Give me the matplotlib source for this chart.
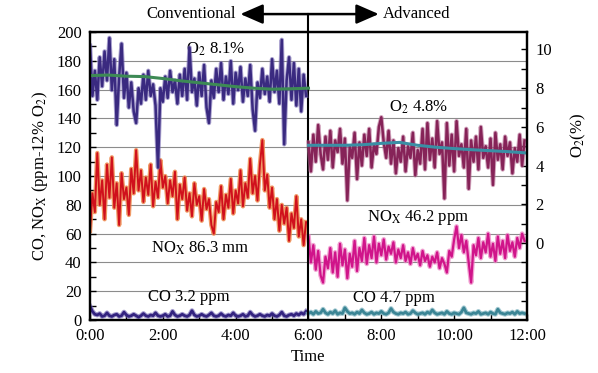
import numpy as np
import matplotlib
matplotlib.use('Agg')
from matplotlib import pyplot as plt

plt.rcParams['font.family'] = ['Liberation Serif', 'DejaVu Serif']
plt.rcParams['mathtext.fontset'] = 'stix'
plt.rcParams['font.size'] = 11.5

# sampling every 4 minutes, times in hours
t_conv = np.arange(0, 360, 4) / 60.
t_adv = np.arange(360, 720, 4) / 60.

# conventional run
o2_conv = [10.2, 7.6, 8.9, 7.4, 9.6, 8.1, 9.9, 8.4, 10.6, 7.9, 9.5, 6.1, 8.6, 10.3, 7.5,
           8.8, 7.0, 8.3, 6.8, 6.2, 8.0, 7.2, 8.7, 7.4, 8.9, 7.6, 8.2, 7.1, 3.9, 8.0,
           7.3, 8.6, 7.5, 8.9, 7.8, 8.4, 7.2, 8.7, 7.6, 9.0, 7.4, 10.1, 7.8, 8.5, 7.1,
           8.8, 7.6, 9.2, 7.0, 6.2, 8.4, 7.5, 9.0, 7.8, 9.3, 7.4, 8.6, 7.7, 9.4, 7.2,
           8.8, 7.9, 9.1, 7.3, 8.5, 7.6, 9.2, 6.9, 5.8, 8.3, 7.5, 9.0, 7.7, 8.6, 7.3,
           9.5, 7.8, 8.9, 7.2, 10.5, 5.1, 8.4, 9.6, 7.4, 9.3, 7.1, 9.0, 6.8, 8.7, 7.6]
nox_conv = [62, 88, 75, 116, 80, 97, 70, 108, 85, 113, 78, 95, 66, 102, 84, 92, 73, 105,
            88, 118, 90, 104, 82, 99, 87, 108, 79, 96, 85, 111, 92, 100, 81, 97, 86, 103,
            70, 94, 84, 99, 76, 88, 72, 95, 80, 86, 69, 91, 77, 84, 66, 60, 82, 75, 93,
            70, 87, 78, 98, 74, 90, 81, 104, 79, 95, 85, 112, 88, 100, 83, 108, 125, 90,
            101, 78, 92, 70, 84, 62, 80, 67, 78, 55, 74, 64, 86, 58, 70, 52, 68]
co_conv = [9.5, 6.0, 4.0, 3.5, 4.5, 2.5, 3.0, 5.0, 3.0, 2.5, 3.5, 4.0, 2.5, 3.0, 5.5,
           3.5, 2.5, 3.0, 4.0, 3.0, 2.0, 3.0, 4.5, 3.0, 2.5, 3.5, 3.0, 5.0, 3.0, 2.5,
           3.0, 4.0, 2.5, 3.0, 6.0, 3.5, 2.5, 3.0, 4.0, 3.0, 2.5, 3.5, 6.5, 3.5, 2.5,
           3.0, 4.0, 3.0, 2.5, 3.5, 5.0, 3.0, 2.5, 3.0, 4.5, 3.0, 2.5, 3.5, 3.0, 5.0,
           3.0, 2.5, 3.0, 4.0, 2.5, 3.0, 5.5, 3.5, 2.5, 3.0, 4.0, 3.0, 2.5, 3.5, 3.0,
           4.5, 3.0, 2.5, 3.5, 5.5, 3.0, 2.5, 3.5, 4.0, 3.0, 4.5, 3.5, 5.0, 4.0, 6.0]

# advanced run
o2_adv = [5.2, 3.7, 5.6, 4.2, 6.1, 4.6, 3.8, 5.5, 4.3, 5.8, 3.9, 5.3, 4.7, 5.9, 4.1,
          5.4, 2.2, 5.0, 4.4, 5.7, 3.3, 5.2, 4.0, 5.6, 4.5, 5.9, 3.9, 5.1, 4.6, 6.0,
          6.5, 5.2, 4.4, 5.8, 4.1, 5.3, 3.6, 4.9, 4.2, 5.5, 3.7, 5.0, 4.4, 5.7, 3.5,
          4.8, 4.1, 5.9, 3.8, 6.2, 4.3, 5.4, 3.9, 6.3, 4.6, 5.2, 2.3, 6.2, 4.0, 5.6,
          3.7, 6.3, 4.5, 5.1, 3.9, 5.9, 2.8, 5.3, 4.2, 5.5, 3.8, 6.0, 4.4, 5.0, 3.9,
          5.4, 3.0, 5.7, 4.3, 5.1, 3.8, 5.5, 4.5, 5.2, 3.6, 4.9, 4.2, 5.6, 4.0, 5.3]
nox_adv = [58, 40, 52, 35, 48, 31, 26, 44, 36, 50, 33, 47, 30, 53, 38, 49, 29, 46, 37,
           55, 34, 50, 41, 57, 39, 52, 43, 58, 40, 53, 45, 56, 42, 51, 46, 54, 40, 49,
           43, 52, 41, 47, 39, 50, 42, 46, 38, 48, 41, 45, 37, 44, 40, 47, 36, 43, 39,
           33, 48, 44, 56, 65, 50, 59, 47, 55, 40, 26, 52, 45, 57, 43, 54, 47, 60, 44,
           53, 41, 58, 46, 55, 43, 59, 48, 54, 44, 57, 50, 60, 55]
co_adv = [4.5, 5.5, 4.0, 6.0, 4.5, 5.0, 7.5, 5.0, 4.0, 5.5, 4.5, 6.5, 4.0, 5.0, 4.5,
          8.5, 6.0, 4.5, 5.0, 4.0, 5.5, 4.5, 7.0, 5.0, 4.0, 4.5, 5.5, 4.0, 5.0, 4.5,
          6.0, 4.5, 4.0, 5.0, 8.0, 5.5, 4.5, 4.0, 5.0, 4.5, 5.5, 4.0, 4.5, 6.5, 5.0,
          4.0, 4.5, 5.0, 4.0, 5.5, 4.5, 7.0, 5.0, 4.0, 4.5, 5.0, 4.0, 6.0, 4.5, 4.0,
          5.0, 4.5, 4.0, 5.5, 8.5, 5.0, 4.5, 4.0, 5.0, 4.5, 6.0, 4.0, 4.5, 5.0, 4.0,
          5.5, 4.5, 4.0, 7.5, 5.0, 4.5, 4.0, 5.0, 4.5, 5.5, 4.0, 6.0, 4.5, 5.0, 4.5]

# smoothed O2 trends
trend_t_conv = [0, 0.5, 1, 1.5, 2, 2.5, 3, 3.5, 4, 4.5, 5, 5.5, 6]
trend_conv = [8.65, 8.68, 8.62, 8.6, 8.5, 8.38, 8.28, 8.18, 8.08, 8.0, 7.95, 7.97, 8.0]
trend_t_adv = [6, 6.5, 7, 7.5, 8, 8.5, 9, 9.5, 10, 10.5, 11, 11.5, 12]
trend_adv = [5.05, 5.05, 5.05, 5.08, 5.15, 5.2, 5.05, 4.95, 4.88, 4.82, 4.77, 4.72, 4.65]

hour_labels = ['0:00', '2:00', '4:00', '6:00', '8:00', '10:00', '12:00']

fig = plt.figure(figsize=(5.98, 3.73), dpi=100)
ax = fig.add_axes([0.1505, 0.142, 0.7307, 0.772])
ax2 = ax.twinx()

ax.set_xlim(0, 12)
ax.set_ylim(0, 200)
ax2.set_ylim(-3.98, 10.9)

ax.set_yticks(np.arange(0, 201, 20))
ax.set_yticks(np.arange(0, 201, 10), minor=True)
ax.set_xticks(np.arange(0, 13, 2))
ax.set_xticks(np.arange(0, 13, 1), minor=True)
ax.set_xticklabels(hour_labels)
ax2.set_yticks(np.arange(0, 11, 2))
ax2.set_yticks(np.arange(-3, 11, 1), minor=True)
for a in (ax, ax2):
    a.tick_params(which='both', direction='in', length=4, width=1)
    a.tick_params(which='major', labelsize=12, pad=6)
ax.tick_params(axis='y', which='both', right=False)
ax.yaxis.grid(True, color='#8c8c8c', linewidth=0.8)
ax.set_axisbelow(True)
for s in ax.spines.values():
    s.set_linewidth(1.6)
for s in ax2.spines.values():
    s.set_linewidth(1.6)

# NOx and CO on the left axis, soft halo under each trace
ax.plot(t_conv, nox_conv, color='#ee8a4e', lw=3.2, alpha=0.85)
ax.plot(t_conv, nox_conv, color='#d0101c', lw=1.4)
ax.plot(t_conv, co_conv, color='#6c5fb0', lw=3.5, alpha=0.6)
ax.plot(t_conv, co_conv, color='#33237f', lw=2.0)
ax.plot(t_adv, nox_adv, color='#ec7cc0', lw=3.4, alpha=0.7)
ax.plot(t_adv, nox_adv, color='#d0148a', lw=1.6)
ax.plot(t_adv, co_adv, color='#7fb4c0', lw=3.5, alpha=0.7)
ax.plot(t_adv, co_adv, color='#3b8595', lw=2.0)

# O2 on the right axis
ax2.plot(t_conv, o2_conv, color='#7466b0', lw=3.2, alpha=0.6)
ax2.plot(t_conv, o2_conv, color='#3a2a80', lw=1.8)
ax2.plot(trend_t_conv, trend_conv, color='#3d8a55', lw=2.2)
ax2.plot(t_adv, o2_adv, color='#b46a92', lw=3.2, alpha=0.6)
ax2.plot(t_adv, o2_adv, color='#862358', lw=1.8)
ax2.plot(trend_t_adv, trend_adv, color='#3a8fa5', lw=2.2)

# split between the two runs
ax.plot([6, 6], [0, 212.5], color='black', lw=1.5, clip_on=False, zorder=5)
ax.annotate('', xy=(4.13, 212.5), xytext=(7.93, 212.5), xycoords='data',
            arrowprops=dict(arrowstyle='<|-|>,head_length=0.55,head_width=0.24',
                            color='black', lw=1.8, mutation_scale=25,
                            shrinkA=0, shrinkB=0),
            annotation_clip=False)
ax.text(4.0, 212.5, 'Conventional', ha='right', va='center', fontsize=12)
ax.text(8.05, 212.5, 'Advanced', ha='left', va='center', fontsize=12)

ax.text(3.44, 188, 'O$_2$ 8.1%', ha='center', va='center', fontsize=12)
ax.text(9.03, 148, 'O$_2$ 4.8%', ha='center', va='center', fontsize=12)
ax.text(3.03, 50, r'NO$_\mathrm{X}$ 86.3 mm', ha='center', va='center', fontsize=12)
ax.text(9.0, 71.5, r'NO$_\mathrm{X}$ 46.2 ppm', ha='center', va='center', fontsize=12)
ax.text(2.7, 16, 'CO 3.2 ppm', ha='center', va='center', fontsize=12)
ax.text(8.34, 15, 'CO 4.7 ppm', ha='center', va='center', fontsize=12)

ax.set_xlabel('Time', fontsize=12, labelpad=3)
ax.set_ylabel(r'CO, NO$_\mathrm{X}$ (ppm-12% O$_2$)', fontsize=12, labelpad=5)
fig.text(0.967, 0.638, 'O$_2$(%)', rotation=90, ha='center', va='center', fontsize=12)

fig.savefig('out.png', dpi=100)
